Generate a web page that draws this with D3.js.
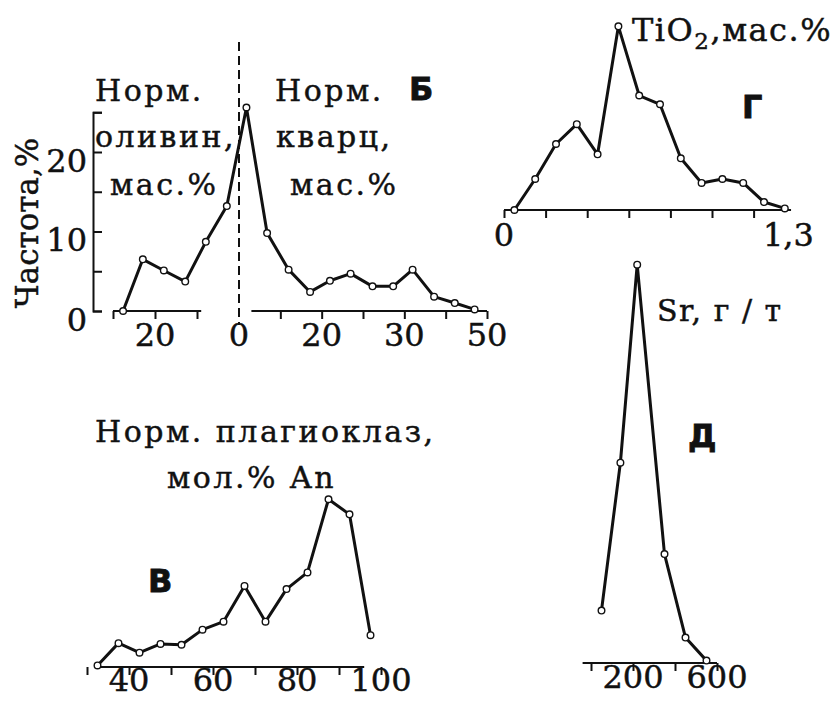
<!doctype html>
<html lang="ru">
<head>
<meta charset="utf-8" />
<title>Частота распределения нормативных минералов, TiO2 и Sr</title>
<script src="https://d3js.org/d3.v7.min.js"></script>
<style>
	body { margin: 0; background: #fff; }
	svg text { font-family: "DejaVu Serif", serif; fill: #111; stroke: #111; stroke-width: 0.45px; }
	svg text.letter { font-family: "DejaVu Sans", sans-serif; font-weight: bold; stroke-width: 0.8px; }
</style>
</head>
<body>
<script type="text/javascript">
// Б -- normative olivine (left of the dashed line) and quartz (right), wt.%
var olivineX = [27.6, 22.9, 17.9, 12.8, 7.9, 2.9];
var olivineFreq = [0, 6.5, 5.1, 3.7, 8.7, 13.2];
var quartzX = [1.8, 6.8, 12, 17.2, 22, 27, 32.3, 37.3, 42, 47.2, 52.2, 57];
var quartzFreq = [25.6, 9.8, 5.2, 2.4, 3.8, 4.7, 3.1, 3.1, 5.2, 1.8, 1.0, 0.2];
var olivineTicks = [10, 20, 30];
var olivineLabelVals = [0, 20];
var olivineLabels = ["0", "20"];
var quartzTicks = [10, 20, 30, 40, 50, 60];
var quartzLabelVals = [20, 40, 60];
var quartzLabels = ["20", "30", "50"];
var freqTicks = [0, 5, 10, 15, 20, 25];
var freqLabels = ["0", "", "10", "", "20", ""];

// Г -- TiO2, wt.%
var tioX = [0.05, 0.15, 0.25, 0.35, 0.45, 0.55, 0.65, 0.75, 0.85, 0.95, 1.05, 1.15, 1.25, 1.35];
var tioFreq = [0, 3.9, 8.3, 10.8, 7.0, 23.1, 14.4, 13.3, 6.5, 3.4, 3.9, 3.4, 1.0, 0.2];
var tioTicks = [0, 0.2, 0.4, 0.6, 0.8, 1.0, 1.2];
var tioLabelVals = [0, 1.3];
var tioLabels = ["0", "1,3"];

// В -- normative plagioclase, mol.% An
var anX = [32.5, 37.5, 42.5, 47.5, 52.5, 57.5, 62.5, 67.5, 72.5, 77.5, 82.5, 87.5, 92.5, 97.5];
var anFreq = [0.2, 3.0, 1.8, 2.9, 2.8, 4.7, 5.7, 10.2, 5.7, 9.8, 11.9, 21.1, 19.2, 4.0];
var anTicks = [30, 40, 50, 60, 70, 80, 90, 100];
var anLabelVals = [40, 60, 80, 100];
var anLabels = ["40", "60", "80", "100"];

// Д -- Sr, g/t
var srX = [50, 140, 220, 350, 450, 550];
var srFreq = [6.6, 25.2, 50.1, 13.7, 3.2, 0.3];
var srTicks = [0, 200, 400, 600];
var srLabelVals = [200, 600];
var srLabels = ["200", "600"];

var w = 837;
var h = 705;
var ink = "#111";
var pxPerPct = 7.95;

var svg = d3.select("body")
	.append("svg")
	.attr("width", w)
	.attr("height", h);

// every panel shares the same frequency scale, only the baseline moves
function freqScale(base, top) {
	return d3.scaleLinear().domain([0, top]).range([base, base - top * pxPerPct]);
}

function drawCurve(pts) {
	svg.append("path")
		.datum(pts)
		.attr("d", d3.line().x(function(d) { return d[0]; }).y(function(d) { return d[1]; }))
		.attr("fill", "none")
		.attr("stroke", ink)
		.attr("stroke-width", 3)
		.attr("stroke-linejoin", "round");
	svg.append("g").selectAll("circle")
		.data(pts)
		.enter()
		.append("circle")
		.attr("cx", function(d) { return d[0]; })
		.attr("cy", function(d) { return d[1]; })
		.attr("r", 3.3)
		.attr("fill", "#fff")
		.attr("stroke", ink)
		.attr("stroke-width", 1.4);
}

function zip(xs, ys, sx, sy) {
	return xs.map(function(v, i) { return [sx(v), sy(ys[i])]; });
}

function baseline(scale, from, to, y) {
	svg.append("line")
		.attr("x1", scale(from)).attr("x2", scale(to))
		.attr("y1", y).attr("y2", y)
		.attr("stroke", ink)
		.attr("stroke-width", 2);
}

function xAxis(scale, y, ticks, labelVals, labels, labelTop) {
	var g = svg.append("g")
		.attr("transform", "translate(0," + y + ")")
		.call(d3.axisBottom(scale).tickValues(ticks).tickFormat("").tickSize(8).tickSizeOuter(0));
	g.select(".domain").remove();
	g.selectAll(".tick line").attr("stroke", ink).attr("stroke-width", 2);
	g.selectAll("text.lbl")
		.data(labelVals)
		.enter()
		.append("text")
		.attr("class", "lbl")
		.attr("x", function(d) { return scale(d); })
		.attr("y", labelTop)
		.attr("dy", "0.73em")
		.attr("text-anchor", "middle")
		.attr("font-size", 32)
		.text(function(d, i) { return labels[i]; });
	return g;
}

function label(x, y, txt, size, cls) {
	return svg.append("text")
		.attr("class", cls || null)
		.attr("x", x)
		.attr("y", y)
		.attr("font-size", size)
		.text(txt);
}

// ---------- Б ----------
var yB = freqScale(311, 25);
var xOl = d3.scaleLinear().domain([0, 30]).range([239, 113]);
var xQz = d3.scaleLinear().domain([0, 60]).range([239, 487]);

svg.append("g")
	.attr("transform", "translate(93,0)")
	.call(d3.axisLeft(yB).tickValues(freqTicks)
		.tickFormat(function(d, i) { return freqLabels[i]; })
		.tickSize(-9).tickSizeOuter(-9).tickPadding(6))
	.call(function(g) {
		g.selectAll("path, line").attr("stroke", ink).attr("stroke-width", 2);
		g.selectAll("text").attr("font-size", 32).attr("font-family", "DejaVu Serif").attr("dy", "0.6em");
	});

baseline(xOl, 30, 9, 311);
baseline(xQz, 3, 60, 311);
xAxis(xOl, 311, olivineTicks, olivineLabelVals, olivineLabels, 12);
xAxis(xQz, 311, quartzTicks, quartzLabelVals, quartzLabels, 12);

svg.append("line")
	.attr("x1", xOl(0)).attr("x2", xOl(0))
	.attr("y1", 42).attr("y2", 325)
	.attr("stroke", ink)
	.attr("stroke-width", 2)
	.attr("stroke-dasharray", "9,5");

drawCurve(zip(olivineX, olivineFreq, xOl, yB).concat(zip(quartzX, quartzFreq, xQz, yB)));

label(95, 101, "Норм.", 30).attr("letter-spacing", 2.5);
label(95, 147, "оливин,", 30).attr("letter-spacing", 2.5);
label(110, 195, "мас.%", 30).attr("letter-spacing", 2.5);
label(275, 101, "Норм.", 30).attr("letter-spacing", 2.5);
label(276, 147, "кварц,", 30).attr("letter-spacing", 2.5);
label(290, 195, "мас.%", 30).attr("letter-spacing", 2.5);
label(409, 100, "Б", 32, "letter");

svg.append("text")
	.attr("transform", "translate(38,223) rotate(-90)")
	.attr("text-anchor", "middle")
	.attr("font-size", 31)
	.text("Частота,%");

// ---------- Г ----------
var yG = freqScale(210, 25);
var xTi = d3.scaleLinear().domain([0, 1.3]).range([504, 774.4]);
baseline(xTi, 0, 1.38, 210);
var gG = xAxis(xTi, 210, tioTicks, tioLabelVals, tioLabels, 13);
gG.selectAll("text.lbl").filter(function(d) { return d === 1.3; }).attr("dx", 14);
drawCurve(zip(tioX, tioFreq, xTi, yG));

var tio = label(632, 41, "TiO", 32).attr("letter-spacing", 1.5);
tio.append("tspan").attr("dy", 8).attr("font-size", 23).text("2");
tio.append("tspan").attr("dy", -8).text(",мас.%");
label(742, 118, "Г", 32, "letter");

// ---------- В ----------
var yV = freqScale(667, 25);
var xAn = d3.scaleLinear().domain([30, 100]).range([87, 381]);
baseline(xAn, 32, 96, 667);
xAxis(xAn, 667, anTicks, anLabelVals, anLabels, 1);
drawCurve(zip(anX, anFreq, xAn, yV));

label(95, 442, "Норм. плагиоклаз,", 30).attr("letter-spacing", 2.5);
label(167, 488, "мол.% An", 30).attr("letter-spacing", 2.5);
label(148, 592, "В", 32, "letter");

// ---------- Д ----------
var yD = freqScale(663, 50);
var xSr = d3.scaleLinear().domain([0, 600]).range([591, 717]);
baseline(xSr, -40, 600, 663);
xAxis(xSr, 663, srTicks, srLabelVals, srLabels, 2);
drawCurve(zip(srX, srFreq, xSr, yD));

label(657, 321, "Sr, г / т", 30).attr("letter-spacing", 1.5);
label(688, 447, "Д", 32, "letter");
</script>
</body>
</html>
